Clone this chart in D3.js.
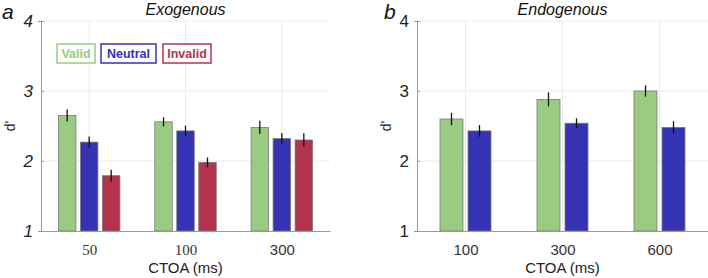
<!DOCTYPE html>
<html>
<head>
<meta charset="utf-8">
<script src="https://cdn.jsdelivr.net/npm/d3@7"></script>
<style>
  body { margin: 0; background: #fff; }
  svg { display: block; font-family: "Liberation Sans", Arial, sans-serif; }
</style>
</head>
<body>
<svg id="chart" width="708" height="278"></svg>
<script>
// ---- data ----
const conditions = ["Valid", "Neutral", "Invalid"]
const colors = ["#99cc80", "#3333b3", "#b3334d"]

const exoCtoa = ["50", "100", "300"]
const exoValid   = [2.65, 2.56, 2.48]
const exoNeutral = [2.27, 2.43, 2.32]
const exoInvalid = [1.79, 1.98, 2.30]
const exoValidErr   = [0.085, 0.065, 0.095]
const exoNeutralErr = [0.08, 0.075, 0.08]
const exoInvalidErr = [0.085, 0.07, 0.095]

const endoCtoa = ["100", "300", "600"]
const endoValid   = [2.60, 2.88, 3.00]
const endoNeutral = [2.43, 2.54, 2.48]
const endoValidErr   = [0.088, 0.1, 0.08]
const endoNeutralErr = [0.083, 0.07, 0.088]

const yTicks = [1, 2, 3, 4]

const svg = d3.select("#chart")

function panel({left, right, title, letter, letterX, cats, series, errs, barW, step, italicTicks, tickFonts}){
	const top = 21, bottom = 231
	const x = d3.scaleLinear().domain([0.5, cats.length + 0.5]).range([left, right])
	const y = d3.scaleLinear().domain([1, 4]).range([bottom, top])
	const g = svg.append("g")

	// grid
	g.selectAll(".hg").data(yTicks.slice(1)).enter().append("line")
		.attr("x1", left).attr("x2", right)
		.attr("y1", d => y(d)).attr("y2", d => y(d))
		.attr("stroke", "#ebebeb").attr("stroke-width", 1)
	g.selectAll(".vg").data(cats).enter().append("line")
		.attr("x1", (d, i) => x(i + 1)).attr("x2", (d, i) => x(i + 1))
		.attr("y1", top).attr("y2", bottom)
		.attr("stroke", "#ebebeb").attr("stroke-width", 1)

	// bars
	const n = series.length
	series.forEach(function(vals, s){
		const off = (s - (n - 1) / 2) * step
		g.selectAll(".b" + s).data(vals).enter().append("rect")
			.attr("x", (d, i) => x(i + 1) + off - barW / 2)
			.attr("width", barW)
			.attr("y", d => y(d))
			.attr("height", d => y(1) - y(d))
			.attr("fill", colors[s])
			.attr("stroke", "#7a7a7a").attr("stroke-width", 0.8)
		g.selectAll(".e" + s).data(vals).enter().append("line")
			.attr("x1", (d, i) => x(i + 1) + off).attr("x2", (d, i) => x(i + 1) + off)
			.attr("y1", (d, i) => y(d + errs[s][i])).attr("y2", (d, i) => y(d - errs[s][i]))
			.attr("stroke", "#111").attr("stroke-width", 1.3)
	})

	// axes
	const yAxis = g.append("g").attr("transform", `translate(${left},0)`)
		.call(d3.axisLeft(y).tickValues(yTicks).tickSize(3).tickFormat(d3.format("d")))
	yAxis.select(".domain").attr("stroke", "#999")
	yAxis.selectAll(".tick line").attr("stroke", "#999").attr("x2", 3)
	yAxis.selectAll(".tick text").attr("x", -8).attr("font-size", 17).attr("fill", "#222")
		.attr("font-style", italicTicks ? "italic" : "normal").attr("font-family", "Liberation Sans, sans-serif")

	const xAxis = g.append("g").attr("transform", `translate(0,${bottom})`)
		.call(d3.axisBottom(x).tickValues(cats.map((d, i) => i + 1)).tickSize(0).tickFormat((d, i) => cats[i]))
	xAxis.select(".domain").attr("stroke", "#999")
	xAxis.selectAll(".tick text").attr("y", 13).attr("font-size", 15).attr("fill", "#333")
		.attr("font-family", (d, i) => tickFonts[i])

	g.append("text").attr("x", (left + right) / 2).attr("y", 273)
		.attr("text-anchor", "middle").attr("font-size", 15).attr("fill", "#222")
		.text("CTOA (ms)")
	g.append("text").attr("transform", `translate(${left - 26},${y(2.5)}) rotate(-90)`)
		.attr("text-anchor", "middle").attr("font-size", 14).attr("fill", "#222")
		.text("d'")
	g.append("text").attr("x", x(2)).attr("y", 15)
		.attr("text-anchor", "middle").attr("font-size", 16).attr("font-style", "italic").attr("fill", "#111")
		.text(title)
	g.append("text").attr("x", letterX).attr("y", 19)
		.attr("font-size", 21).attr("font-style", "italic").attr("fill", "#111")
		.text(letter)
	return {x, y, g}
}

const pa = panel({left: 41, right: 330, title: "Exogenous", letter: "a", letterX: 2,
	cats: exoCtoa, series: [exoValid, exoNeutral, exoInvalid],
	errs: [exoValidErr, exoNeutralErr, exoInvalidErr], barW: 17.5, step: 22, italicTicks: true,
	tickFonts: ["Liberation Serif, serif", "Liberation Serif, serif", "Liberation Sans, sans-serif"]})

panel({left: 417, right: 708, title: "Endogenous", letter: "b", letterX: 384,
	cats: endoCtoa, series: [endoValid, endoNeutral],
	errs: [endoValidErr, endoNeutralErr], barW: 23, step: 28, italicTicks: false,
	tickFonts: ["Liberation Sans, sans-serif", "Liberation Sans, sans-serif", "Liberation Sans, sans-serif"]})

// legend in panel a
const legendX = [57, 101, 163]
const legendW = [38, 55, 48]
const leg = pa.g.selectAll(".leg").data(conditions).enter().append("g")
leg.append("rect")
	.attr("x", (d, i) => legendX[i]).attr("y", 44)
	.attr("width", (d, i) => legendW[i]).attr("height", 19)
	.attr("fill", "#fff").attr("stroke", (d, i) => colors[i]).attr("stroke-width", 1.5)
leg.append("text")
	.attr("x", (d, i) => legendX[i] + legendW[i] / 2).attr("y", 58)
	.attr("text-anchor", "middle").attr("font-size", 12.5).attr("font-weight", "bold")
	.attr("fill", (d, i) => colors[i])
	.text(d => d)
</script>
</body>
</html>
